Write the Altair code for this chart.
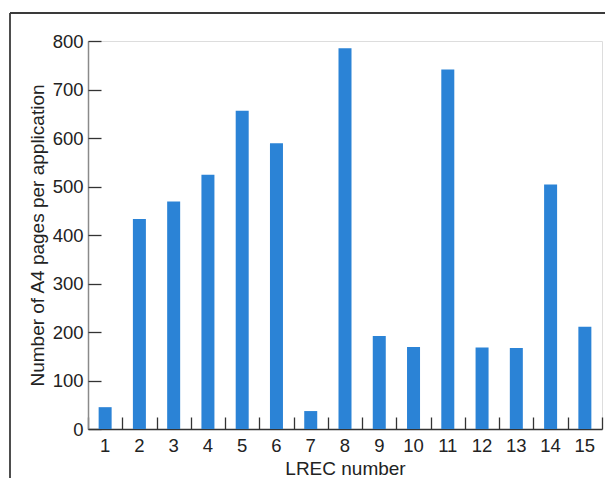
import altair as alt
import pandas as pd

# Data
lrec = [str(i) for i in range(1, 16)]
pages = [45, 433, 469, 524, 656, 589, 37, 785, 192, 169, 741, 168, 167, 504, 211]
y_ticks = [0, 100, 200, 300, 400, 500, 600, 700, 800]

df = pd.DataFrame({"lrec": lrec, "pages": pages})

W, H = 514, 388
FONT = "Liberation Sans"
BAR = "#2b83d6"
INK = "#222222"

x_scale = alt.Scale(paddingInner=0, paddingOuter=0)
y_scale = alt.Scale(domain=[0, 800], nice=False)

bars = alt.Chart(df).mark_bar(size=13, color=BAR).encode(
    x=alt.X(
        "lrec:N", sort=lrec, scale=x_scale, title="LREC number",
        axis=alt.Axis(
            orient="bottom", ticks=False, tickSize=0, labelAngle=0,
            labelPadding=7, labelFontSize=18.5, labelColor=INK, labelFont=FONT,
            titleFontSize=19, titleFont=FONT, titleColor=INK, titleFontWeight="normal",
            titlePadding=5, domainColor="#333333", domainWidth=1.5, grid=False,
        ),
    ),
    y=alt.Y(
        "pages:Q", scale=y_scale, title="Number of A4 pages per application",
        axis=alt.Axis(
            orient="left", ticks=False, tickSize=0, values=y_ticks,
            labelPadding=5, labelFontSize=18.5, labelColor=INK, labelFont=FONT,
            titleFontSize=19, titleFont=FONT, titleColor=INK, titleFontWeight="normal",
            titlePadding=5, domainColor="#8a8a8a", domainWidth=1.5, grid=False,
        ),
    ),
)

inner_ticks = alt.Chart(df).mark_bar(opacity=0).encode(
    x=alt.X(
        "lrec:N", sort=lrec, scale=x_scale, title=None,
        axis=alt.Axis(
            orient="top", offset=-H, labels=False, domain=False,
            tickBand="extent", tickSize=12, tickColor="#333333", tickWidth=1.3, grid=False,
        ),
    ),
    y=alt.Y(
        "pages:Q", scale=y_scale, title=None,
        axis=alt.Axis(
            orient="right", offset=-W, labels=False, domain=False, values=y_ticks,
            tickSize=13, tickColor="#333333", tickWidth=1.3, grid=False,
        ),
    ),
)

frame_src = alt.Chart(pd.DataFrame({"a": [0]}))
frame_top = frame_src.mark_rule(color="#3a3a3a", strokeWidth=1.8).encode(
    x=alt.value(-78), x2=alt.value(530), y=alt.value(-28)
)
frame_left = frame_src.mark_rule(color="#3a3a3a", strokeWidth=1.8).encode(
    x=alt.value(-78), y=alt.value(-28), y2=alt.value(445)
)

chart = (
    alt.layer(bars, inner_ticks, frame_top, frame_left)
    .resolve_axis(x="independent", y="independent")
    .properties(
        width=W, height=H,
        autosize=alt.AutoSizeParams(type="none"),
        padding={"left": 80, "top": 33, "right": 3, "bottom": 49},
        background="white",
    )
    .configure_view(stroke=None)
    .configure(font=FONT)
)

chart.save("out.html", embed_options={"renderer": "svg", "actions": False})
